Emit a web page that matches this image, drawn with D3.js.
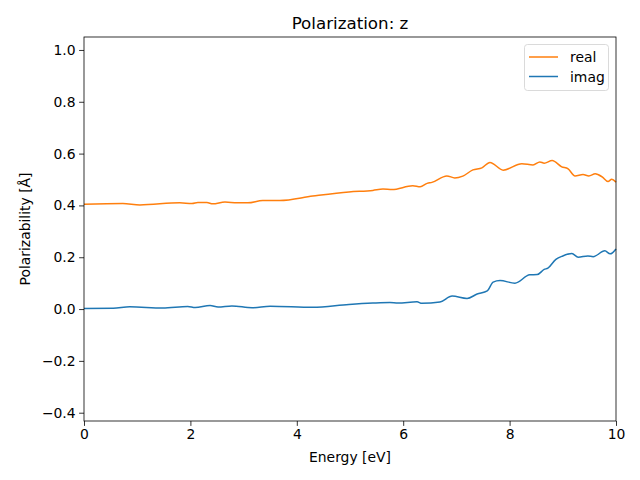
<!DOCTYPE html>
<html><head><meta charset="utf-8">
<script src="https://cdn.jsdelivr.net/npm/d3@7"></script>
<style>body{margin:0;background:#fff}svg{display:block}text{font-family:"DejaVu Sans",sans-serif}</style>
</head><body><svg id="c" width="640" height="480"></svg>
<script>
const realX = [0,0.73,1.05,1.80,2.03,2.14,2.31,2.42,2.65,2.88,3.08,3.36,3.68,4.30,4.98,5.43,5.62,5.79,6.18,6.32,6.45,6.54,6.82,6.97,7.12,7.31,7.48,7.63,7.88,8.23,8.44,8.57,8.65,8.80,8.98,9.10,9.23,9.38,9.49,9.61,9.74,9.85,9.92,10];
const realY = [0.405,0.407,0.402,0.410,0.407,0.411,0.411,0.406,0.413,0.410,0.410,0.419,0.419,0.436,0.452,0.458,0.463,0.461,0.476,0.472,0.485,0.489,0.514,0.506,0.513,0.537,0.545,0.566,0.536,0.561,0.556,0.568,0.563,0.573,0.549,0.541,0.514,0.519,0.514,0.522,0.510,0.492,0.501,0.490];
const imagX = [0,0.55,0.86,1.48,1.95,2.09,2.37,2.52,2.78,3.16,3.50,4.30,4.98,5.43,5.75,5.9,6.26,6.35,6.69,6.92,7.20,7.39,7.58,7.69,7.82,8.10,8.38,8.52,8.65,8.72,8.87,9.00,9.17,9.29,9.47,9.57,9.79,9.89,10];
const imagY = [0.002,0.003,0.009,0.004,0.010,0.006,0.014,0.008,0.012,0.005,0.011,0.007,0.018,0.023,0.025,0.023,0.028,0.022,0.027,0.050,0.041,0.058,0.070,0.104,0.110,0.100,0.132,0.133,0.153,0.158,0.192,0.205,0.214,0.200,0.205,0.202,0.225,0.213,0.232];
const xTicks = [0,2,4,6,8,10];
const yTicks = [-0.4,-0.2,0.0,0.2,0.4,0.6,0.8,1.0];
const seriesNames = ["real","imag"];
const seriesColors = ["#ff7f0e","#1f77b4"];

const svg = d3.select("#c");
const L=84,R=616,T=37,B=421;
const x = d3.scaleLinear().domain([0,10]).range([L,R]);
const y = d3.scaleLinear().domain([-0.432,1.05]).range([B,T]);

const xa = svg.append("g").attr("transform",`translate(0,${B})`)
  .call(d3.axisBottom(x).tickValues(xTicks).tickFormat(d3.format("d")).tickSizeOuter(0).tickSize(4.9).tickPadding(3.5));
const ya = svg.append("g").attr("transform",`translate(${L},0)`)
  .call(d3.axisLeft(y).tickValues(yTicks).tickFormat(d=>d3.format(".1f")(d).replace("-","\u2212")).tickSizeOuter(0).tickSize(4.9).tickPadding(3.5));
[xa,ya].forEach(a=>{a.select(".domain").remove();a.selectAll("text").attr("font-size",13.9).attr("fill","#000").style("font-family","DejaVu Sans");a.selectAll("line").attr("stroke","#000").attr("stroke-width",0.8);});

const line = d3.line().curve(d3.curveMonotoneX);
const data = [d3.zip(realX,realY), d3.zip(imagX,imagY)];
data.forEach((d,i)=>{
  svg.append("path").attr("d",line(d.map(p=>[x(p[0]),y(p[1])])))
    .attr("fill","none").attr("stroke",seriesColors[i]).attr("stroke-width",1.5);
});

svg.append("rect").attr("x",L).attr("y",T).attr("width",R-L).attr("height",B-T)
  .attr("fill","none").attr("stroke","#000").attr("stroke-width",0.8);

svg.append("text").attr("x",(L+R)/2).attr("y",29).attr("text-anchor","middle").attr("font-size",16.7).text("Polarization: z");
svg.append("text").attr("x",(L+R)/2).attr("y",462).attr("text-anchor","middle").attr("font-size",13.9).text("Energy [eV]");
svg.append("text").attr("transform",`translate(30,${(T+B)/2}) rotate(-90)`).attr("text-anchor","middle").attr("font-size",13.9).text("Polarizability [Å]");

const lg = svg.append("g");
lg.append("rect").attr("x",524.5).attr("y",44.5).attr("width",84).attr("height",46).attr("rx",3)
  .attr("fill","#fff").attr("fill-opacity",0.8).attr("stroke","#d0d0d0").attr("stroke-width",0.8);
seriesNames.forEach((n,i)=>{
  const yy = 57 + i*19.5;
  lg.append("line").attr("x1",529).attr("x2",558).attr("y1",yy).attr("y2",yy).attr("stroke",seriesColors[i]).attr("stroke-width",1.5);
  lg.append("text").attr("x",570).attr("y",yy+5).attr("font-size",13.9).text(n);
});
</script></body></html>
